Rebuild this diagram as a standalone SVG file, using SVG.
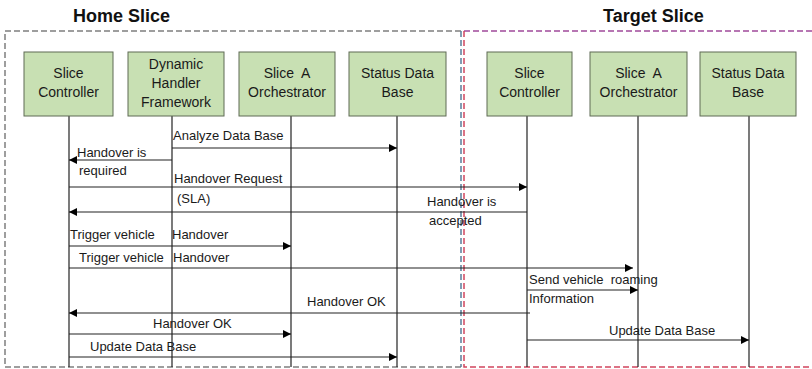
<svg xmlns="http://www.w3.org/2000/svg" width="812" height="369" viewBox="0 0 812 369">
<defs>
<marker id="ah" viewBox="0 0 10 10" refX="10" refY="5" markerWidth="8" markerHeight="8" markerUnits="userSpaceOnUse" orient="auto">
<path d="M0,0 L10,5 L0,10 z" fill="#000"/>
</marker>
<style>
.node rect{fill:#c8e0b3;stroke:#5f6b55;stroke-width:1}
.nt{font-family:"Liberation Sans",Arial,sans-serif;font-size:14px;fill:#1a1a1a;text-anchor:middle}
.t{font-family:"Liberation Sans",Arial,sans-serif;font-size:13px;fill:#1a1a1a}
.title{font-family:"Liberation Sans",Arial,sans-serif;font-size:18px;font-weight:bold;fill:#111}
.life{stroke:#222;stroke-width:1.2;fill:none}
.msg{stroke:#222;stroke-width:1.2;fill:none;marker-end:url(#ah)}
.dash{fill:none;stroke-width:1.5;stroke-dasharray:6 3}
</style>
</defs>
<rect width="812" height="369" fill="#fff"/>
<text class="title" x="73" y="22">Home Slice</text>
<text class="title" x="603" y="22">Target Slice</text>
<g id="home-slice">
<path class="dash" stroke="#7f7f7f" d="M461,31 H5 V367 H461"/>
<path class="dash" stroke="#5a7f9c" d="M461,31 V367"/>
</g>
<g id="target-slice">
<path class="dash" stroke="#a04a9a" d="M464,31 H812"/>
<path class="dash" stroke="#d1455e" d="M464,31 V367 H812"/>
</g>
<g id="lifelines">
<path class="life" d="M69,116 V367"/>
<path class="life" d="M172,116 V367"/>
<path class="life" d="M291,116 V367"/>
<path class="life" d="M397,116 V367"/>
<path class="life" d="M527,116 V367"/>
<path class="life" d="M638,116 V367"/>
<path class="life" d="M749,116 V367"/>
</g>
<g id="n1" class="node"><rect x="24" y="52" width="89" height="64"/><text class="nt" x="68.5" y="78">Slice</text><text class="nt" x="68.5" y="97">Controller</text></g>
<g id="n2" class="node"><rect x="128" y="52" width="96" height="64"/><text class="nt" x="176" y="69">Dynamic</text><text class="nt" x="176" y="88">Handler</text><text class="nt" x="176" y="107">Framework</text></g>
<g id="n3" class="node"><rect x="239" y="52" width="96" height="64"/><text class="nt" x="287" y="78">Slice&#160; A</text><text class="nt" x="287" y="97">Orchestrator</text></g>
<g id="n4" class="node"><rect x="349" y="52" width="97" height="64"/><text class="nt" x="397.5" y="78">Status Data</text><text class="nt" x="397.5" y="97">Base</text></g>
<g id="n5" class="node"><rect x="487" y="52" width="85" height="64"/><text class="nt" x="529.5" y="78">Slice</text><text class="nt" x="529.5" y="97">Controller</text></g>
<g id="n6" class="node"><rect x="590" y="52" width="97" height="64"/><text class="nt" x="638.5" y="78">Slice&#160; A</text><text class="nt" x="638.5" y="97">Orchestrator</text></g>
<g id="n7" class="node"><rect x="700" y="52" width="96" height="64"/><text class="nt" x="748" y="78">Status Data</text><text class="nt" x="748" y="97">Base</text></g>
<g id="connectors">
<path class="msg" d="M172,148 H397"/>
<path class="msg" d="M172,160 H69"/>
<path class="msg" d="M69,187 H527"/>
<path class="msg" d="M527,212 H69"/>
<path class="msg" d="M69,246 H291"/>
<path class="msg" d="M69,268 H633"/>
<path class="msg" d="M527,290 H638"/>
<path class="msg" d="M530,313 H69"/>
<path class="msg" d="M69,334 H291"/>
<path class="msg" d="M69,357 H397"/>
<path class="msg" d="M527,340 H749"/>
</g>
<g id="labels">
<text class="t" x="173" y="140">Analyze Data Base</text>
<text class="t" x="77" y="157">Handover is</text>
<text class="t" x="79" y="175">required</text>
<text class="t" x="174" y="183">Handover Request</text>
<text class="t" x="177" y="203">(SLA)</text>
<text class="t" x="427" y="206">Handover is</text>
<text class="t" x="429" y="225">accepted</text>
<text class="t" x="70" y="239">Trigger vehicle</text>
<text class="t" x="172" y="239">Handover</text>
<text class="t" x="79" y="262">Trigger vehicle</text>
<text class="t" x="173" y="262">Handover</text>
<text class="t" x="529" y="284">Send vehicle&#160; roaming</text>
<text class="t" x="529" y="303">Information</text>
<text class="t" x="307" y="306">Handover OK</text>
<text class="t" x="153" y="328">Handover OK</text>
<text class="t" x="90" y="351">Update Data Base</text>
<text class="t" x="609" y="335">Update Data Base</text>
</g>
</svg>
